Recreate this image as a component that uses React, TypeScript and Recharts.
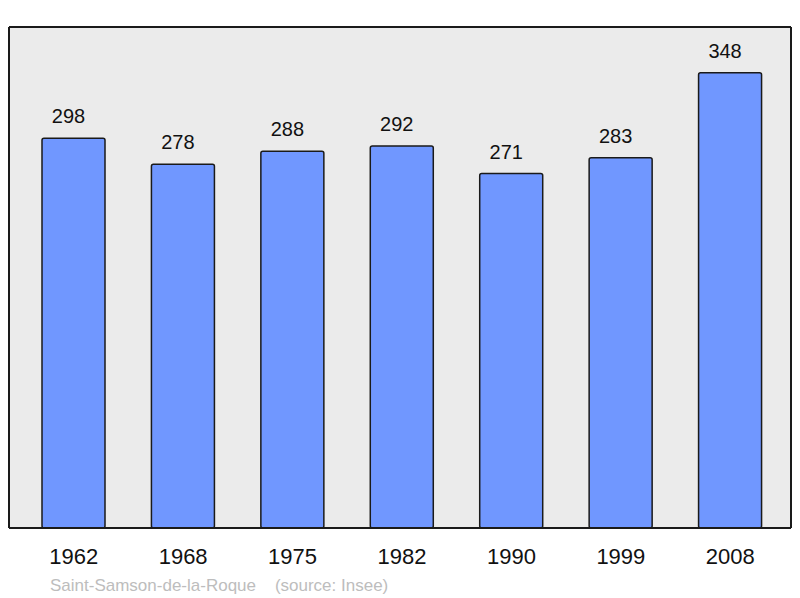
import React from "react";
import { BarChart, Bar, XAxis, YAxis, CartesianGrid, LabelList } from "recharts";

const years = ["1962", "1968", "1975", "1982", "1990", "1999", "2008"];
const population = [298, 278, 288, 292, 271, 283, 348];
const commune = "Saint-Samson-de-la-Roque";
const source = "(source: Insee)";

const data = years.map((y, i) => ({ year: y, pop: population[i] }));

const FONT = "'Liberation Sans', Arial, sans-serif";
const FRAME = { stroke: "#1a1a1a", strokeWidth: 2 };

export default function App() {
  return (
    <div style={{ position: "absolute", left: 0, top: 0, width: 800, height: 598, background: "#fff", fontFamily: FONT }}>
      <BarChart
        width={800}
        height={598}
        data={data}
        margin={{ top: 26, right: 8, bottom: 0, left: 8 }}
        barSize={63}
      >
        <CartesianGrid fill="#ebebeb" horizontal={false} vertical={false} />
        <XAxis
          dataKey="year"
          height={70}
          padding={{ left: 10, right: 6 }}
          axisLine={FRAME}
          tickLine={false}
          tickSize={0}
          tickMargin={20}
          interval={0}
          tick={{ fontSize: 22, fill: "#111", fontFamily: FONT }}
        />
        <XAxis
          xAxisId="top"
          dataKey="year"
          orientation="top"
          height={1}
          axisLine={FRAME}
          tick={false}
          tickLine={false}
        />
        <YAxis
          width={1}
          domain={[0, 383]}
          axisLine={FRAME}
          tick={false}
          tickLine={false}
        />
        <YAxis
          yAxisId="r"
          orientation="right"
          width={1}
          domain={[0, 383]}
          axisLine={FRAME}
          tick={false}
          tickLine={false}
        />
        <Bar
          dataKey="pop"
          fill="#7097ff"
          stroke="#1a1a1a"
          strokeWidth={1.5}
          radius={2}
          isAnimationActive={false}
        >
          <LabelList
            dataKey="pop"
            position="top"
            offset={15}
            dx={-5}
            style={{ fontSize: 20, fill: "#111", fontFamily: FONT }}
          />
        </Bar>
      </BarChart>
      <div
        style={{
          position: "absolute",
          left: 50,
          top: 576.6,
          fontSize: 17,
          lineHeight: "17px",
          color: "#bdbdbd",
          whiteSpace: "pre",
          fontFamily: FONT,
        }}
      >
        {commune + "    " + source}
      </div>
    </div>
  );
}
